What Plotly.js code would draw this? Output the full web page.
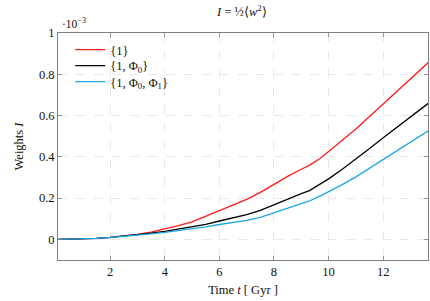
<!DOCTYPE html>
<html>
<head>
<meta charset="utf-8">
<script src="https://cdn.plot.ly/plotly-3.0.1.min.js"></script>
<style>html,body{margin:0;padding:0;background:#fff;}#chart{width:430px;height:301px;}</style>
</head>
<body>
<div id="chart"></div>
<script>
const timeGyr = [0.1, 0.5, 1, 1.5, 2, 2.5, 3, 3.5, 4, 4.5, 5, 5.5, 6, 6.5, 7, 7.5, 8, 8.5, 9, 9.3, 9.7, 10, 10.5, 11, 11.5, 12, 12.5, 13, 13.65];
const weights1 = [0, 0.0005, 0.002, 0.005, 0.01, 0.016, 0.024, 0.035, 0.049, 0.066, 0.085, 0.112, 0.139, 0.166, 0.194, 0.228, 0.268, 0.305, 0.34, 0.36, 0.393, 0.425, 0.478, 0.535, 0.595, 0.655, 0.715, 0.778, 0.857];
const weights1Phi0 = [0, 0.0005, 0.002, 0.005, 0.01, 0.016, 0.022, 0.03, 0.039, 0.05, 0.062, 0.073, 0.089, 0.105, 0.12, 0.14, 0.168, 0.196, 0.222, 0.236, 0.268, 0.293, 0.34, 0.388, 0.44, 0.492, 0.544, 0.596, 0.659];
const weights1Phi0Phi1 = [0, 0.0005, 0.002, 0.005, 0.009, 0.014, 0.02, 0.027, 0.034, 0.042, 0.051, 0.061, 0.072, 0.082, 0.092, 0.107, 0.128, 0.15, 0.171, 0.186, 0.211, 0.23, 0.265, 0.303, 0.345, 0.386, 0.428, 0.47, 0.526];
const seriesNames = ['{1}', '{1, Φ<sub>0</sub>}', '{1, Φ<sub>0</sub>, Φ<sub>1</sub>}'];
const xTicks = [2, 4, 6, 8, 10, 12];
const yTicks = [0, 0.2, 0.4, 0.6, 0.8, 1];
const yTickText = ['0', '0.2', '0.4', '0.6', '0.8', '1'];

const serif = 'Liberation Serif';
const colors = ['#ff1a1a', '#000000', '#1aa7e6'];
const legendIds = ['legend', 'legend2', 'legend3'];
const ys = [weights1, weights1Phi0, weights1Phi0Phi1];
const traces = ys.map((y, i) => ({
  x: timeGyr, y: y, type: 'scatter', mode: 'lines', name: seriesNames[i],
  legend: legendIds[i],
  line: {color: colors[i], width: 1.3}
}));

const axisCommon = {
  showline: true, linecolor: '#808080', linewidth: 1, mirror: 'allticks',
  ticks: 'inside', ticklen: 4, tickcolor: '#808080', tickwidth: 0.8,
  showgrid: true, gridcolor: '#e3e3e3', griddash: 'dash', gridwidth: 0.8,
  zeroline: false, tickfont: {family: serif, size: 12.5, color: '#111'}
};

function legendAt(yPaper) {
  return {x: 0.033, y: yPaper, xanchor: 'left', yanchor: 'middle', bgcolor: 'rgba(0,0,0,0)', borderwidth: 0,
    font: {family: serif, size: 12.5, color: '#111'}, itemwidth: 30};
}

const layout = {
  width: 430, height: 301,
  margin: {l: 58, r: 2, t: 33, b: 41},
  paper_bgcolor: '#fff', plot_bgcolor: '#fff',
  font: {family: serif, color: '#111'},
  title: {text: '<i>I</i> = ½⟨<i>w</i><sup>2</sup>⟩', font: {family: serif, size: 12.5}, x: 0.5625, xanchor: 'center', y: 0.962, yanchor: 'middle'},
  xaxis: Object.assign({}, axisCommon, {
    range: [0.09, 13.64], tickvals: xTicks,
    title: {text: 'Time <i>t</i> [ Gyr ]', font: {family: serif, size: 12.5}, standoff: 7}
  }),
  yaxis: Object.assign({}, axisCommon, {
    range: [-0.1, 1], tickvals: yTicks, ticktext: yTickText,
    title: {text: 'Weights <i>I</i>', font: {family: serif, size: 12.5}, standoff: 12}
  }),
  showlegend: true,
  legend: legendAt(0.925),
  legend2: legendAt(0.855),
  legend3: legendAt(0.784),
  annotations: [{
    xref: 'paper', yref: 'paper', x: 0.005, y: 1, xanchor: 'left', yanchor: 'bottom', yshift: 1,
    text: '·10<sup>−3</sup>', showarrow: false, font: {family: serif, size: 11.5, color: '#111'}
  }]
};

Plotly.newPlot('chart', traces, layout, {displayModeBar: false, staticPlot: true});
</script>
</body>
</html>
